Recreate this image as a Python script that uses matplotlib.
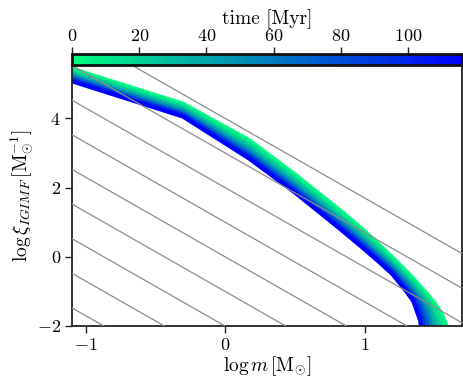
import numpy as np
import matplotlib
matplotlib.use("Agg")
import matplotlib.pyplot as plt
from matplotlib import cm, colors

plt.rcParams['font.family'] = 'serif'
plt.rcParams['font.serif'] = ['cmr10']
plt.rcParams['mathtext.fontset'] = 'cm'
plt.rcParams['axes.formatter.use_mathtext'] = True

# log10 mass grid (Msun)
log_m = [-1.097, -0.301, 0.176, 0.5, 0.75, 0.9, 1.0, 1.1, 1.2,
         1.3, 1.35, 1.4, 1.45, 1.5, 1.55, 1.6, 1.65]

# times of each IGIMF snapshot [Myr]
times = [0, 8, 17, 28, 41, 56, 74, 94, 116]

# log xi_IGIMF for each snapshot
xi_t0 = [5.43, 4.42, 3.36, 2.38, 1.58, 1.09, 0.74, 0.365, -0.02,
         -0.42, -0.63, -0.86, -1.08, -1.33, -1.63, -2.1, -4]
xi_t1 = [5.385, 4.37, 3.29, 2.315, 1.51, 1.02, 0.675, 0.30, -0.08,
         -0.495, -0.71, -0.93, -1.165, -1.44, -1.80, -2.28, -4]
xi_t2 = [5.34, 4.33, 3.23, 2.25, 1.45, 0.957, 0.61, 0.24, -0.14,
         -0.56, -0.775, -1.00, -1.25, -1.55, -2.03, -4, -4]
xi_t3 = [5.295, 4.28, 3.16, 2.185, 1.38, 0.89, 0.545, 0.18, -0.20,
         -0.62, -0.85, -1.085, -1.35, -1.73, -2.32, -4, -4]
xi_t4 = [5.25, 4.235, 3.095, 2.12, 1.315, 0.82, 0.48, 0.115, -0.26,
         -0.68, -0.92, -1.16, -1.455, -2.0, -4, -4, -4]
xi_t5 = [5.205, 4.19, 3.03, 2.055, 1.25, 0.755, 0.41, 0.05, -0.32,
         -0.76, -1.00, -1.26, -1.64, -2.33, -4, -4, -4]
xi_t6 = [5.16, 4.14, 2.96, 1.99, 1.18, 0.69, 0.35, -0.01, -0.38,
         -0.84, -1.08, -1.37, -1.92, -4, -4, -4, -4]
xi_t7 = [5.115, 4.10, 2.90, 1.925, 1.12, 0.62, 0.28, -0.075, -0.44,
         -0.92, -1.18, -1.56, -2.35, -4, -4, -4, -4]
xi_t8 = [5.07, 4.05, 2.83, 1.86, 1.05, 0.555, 0.215, -0.135, -0.50,
         -1.0, -1.28, -1.85, -4, -4, -4, -4, -4]
curves = [xi_t0, xi_t1, xi_t2, xi_t3, xi_t4, xi_t5, xi_t6, xi_t7, xi_t8]

# reference power-law lines: log xi = c + slope * log m
ref_slope = -2.3
ref_offsets = [-4, -3, -2, -1, 0, 1, 2, 3, 4]

x_ticks = [-1, 0, 1]
y_ticks = [-2, 0, 2, 4]
t_ticks = [0, 20, 40, 60, 80, 100]

fig = plt.figure(figsize=(4.64, 3.83), dpi=100)
ax_l, ax_b, ax_w, ax_h = 72/464, 57/383, 390/464, 261/383
ax = fig.add_axes([ax_l, ax_b, ax_w, ax_h])
cax = fig.add_axes([ax_l, ax_b + ax_h, ax_w, 11.5/383])

cmap = plt.get_cmap('winter_r')
norm = colors.Normalize(vmin=min(times), vmax=max(times))

for t, y in zip(times, curves):
    ax.plot(log_m, y, color=cmap(norm(t)), lw=3.0, solid_capstyle='butt',
            solid_joinstyle='round', zorder=2)

for c in ref_offsets:
    ax.axline((0, c), slope=ref_slope, color='#8c8c8c', lw=0.9, zorder=3)

ax.set_xlim(-1.097, 1.699)
ax.set_ylim(-2, 5.54)
ax.set_xticks(x_ticks)
ax.set_yticks(y_ticks)
ax.tick_params(direction='out', length=5, width=1.0, labelsize=13, colors='#222222',
               labelcolor='black', pad=3)
for sp in ax.spines.values():
    sp.set_linewidth(1.3)
    sp.set_color('#222222')
ax.set_xlabel(r'$\log m\,[\mathrm{M}_{\odot}]$', fontsize=14, labelpad=1)
ax.set_ylabel(r'$\log \xi_{IGIMF}\,[\mathrm{M}_{\odot}^{-1}]$', fontsize=14, labelpad=1)

sm = cm.ScalarMappable(norm=norm, cmap=cmap)
sm.set_array([])
cb = fig.colorbar(sm, cax=cax, orientation='horizontal')
cb.set_ticks(t_ticks)
cax.xaxis.set_ticks_position('top')
cax.xaxis.set_label_position('top')
cax.tick_params(direction='out', length=5, width=1.0, labelsize=13, colors='#222222',
                labelcolor='black', pad=2)
cb.outline.set_linewidth(2.0)
cb.outline.set_edgecolor('#111111')
cb.set_label('time [Myr]', fontsize=14, labelpad=3)

fig.savefig('out.png', dpi=100)
